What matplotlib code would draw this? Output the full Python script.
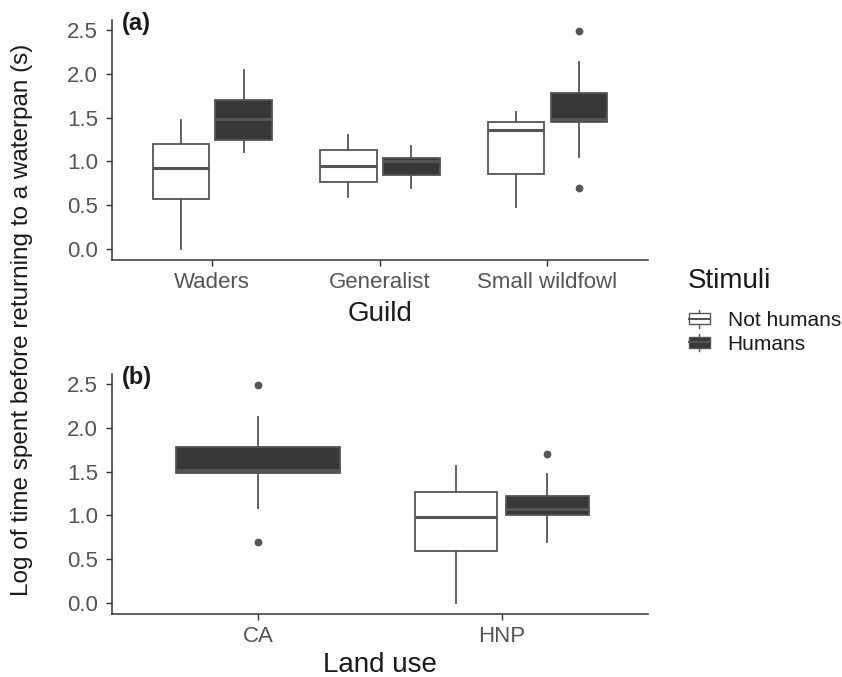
import matplotlib
matplotlib.use("Agg")
import matplotlib.pyplot as plt
from matplotlib.legend_handler import HandlerBase
from matplotlib.patches import Rectangle
from matplotlib.lines import Line2D

plt.rcParams['font.family'] = ['Liberation Sans', 'DejaVu Sans']

# ---- Data ----
guilds = ["Waders", "Generalist", "Small wildfowl"]
land_uses = ["CA", "HNP"]
stimuli = ["Not humans", "Humans"]

# five-number summaries: (whislo, q1, med, q3, whishi), outliers
guild_not_humans = [(0.00, 0.57, 0.93, 1.20, 1.47),
                    (0.60, 0.77, 0.95, 1.13, 1.30),
                    (0.48, 0.86, 1.36, 1.45, 1.56)]
guild_not_humans_out = [[], [], []]
guild_humans = [(1.11, 1.25, 1.48, 1.70, 2.04),
                (0.70, 0.85, 1.01, 1.04, 1.175),
                (1.05, 1.45, 1.48, 1.78, 2.13)]
guild_humans_out = [[], [], [0.70, 2.49]]

land_not_humans = [None, (0.00, 0.60, 0.98, 1.27, 1.56)]
land_not_humans_out = [[], []]
land_humans = [(1.09, 1.48, 1.52, 1.78, 2.12),
               (0.70, 1.00, 1.07, 1.22, 1.47)]
land_humans_out = [[0.70, 2.49], [1.70]]

yticks = [0.0, 0.5, 1.0, 1.5, 2.0, 2.5]

# ---- Styles ----
W, H = 842, 677
FILL = {"Not humans": "#FFFFFF", "Humans": "#383838"}
EDGE = "#555555"
AXC = "#333333"
TICKC = "#555555"
TXT = "#1a1a1a"

fig = plt.figure(figsize=(W / 100, H / 100), dpi=100)

def ax_rect(left, top, right, bottom):
    return [left / W, 1 - bottom / H, (right - left) / W, (bottom - top) / H]

ax_a = fig.add_axes(ax_rect(111.8, 20, 648, 260))
ax_b = fig.add_axes(ax_rect(111.8, 374, 648, 614))

def stats(five, out):
    lo, q1, med, q3, hi = five
    return dict(whislo=lo, q1=q1, med=med, q3=q3, whishi=hi, fliers=out)

def draw(ax, five, out, pos, width, group):
    ax.bxp([stats(five, out)], positions=[pos], widths=[width],
           patch_artist=True, showcaps=False,
           boxprops=dict(facecolor=FILL[group], edgecolor=EDGE, linewidth=1.3),
           medianprops=dict(color=EDGE, linewidth=2.2, solid_capstyle='butt'),
           whiskerprops=dict(color=EDGE, linewidth=1.3),
           flierprops=dict(marker='o', markerfacecolor=EDGE, markeredgecolor=EDGE,
                           markersize=4.6, linestyle='none'),
           manage_ticks=False)

dodge = 0.1875
bw = 0.3375
for i in range(len(guilds)):
    draw(ax_a, guild_not_humans[i], guild_not_humans_out[i], i + 1 - dodge, bw, "Not humans")
    draw(ax_a, guild_humans[i], guild_humans_out[i], i + 1 + dodge, bw, "Humans")

for i in range(len(land_uses)):
    nh = land_not_humans[i]
    if nh is None:
        draw(ax_b, land_humans[i], land_humans_out[i], i + 1, 2 * bw, "Humans")
    else:
        draw(ax_b, nh, land_not_humans_out[i], i + 1 - dodge, bw, "Not humans")
        draw(ax_b, land_humans[i], land_humans_out[i], i + 1 + dodge, bw, "Humans")

ymin, ymax = -0.1245, 2.6145
for ax, cats, xlabel, tag, lpad in [(ax_a, guilds, "Guild", "(a)", 6),
                                    (ax_b, land_uses, "Land use", "(b)", 3.5)]:
    ax.set_xlim(0.4, len(cats) + 0.6)
    ax.set_ylim(ymin, ymax)
    ax.set_xticks(range(1, len(cats) + 1))
    ax.set_xticklabels(cats)
    ax.set_yticks(yticks)
    ax.set_yticklabels([f"{v:.1f}" for v in yticks])
    for s in ["top", "right"]:
        ax.spines[s].set_visible(False)
    for s in ["left", "bottom"]:
        ax.spines[s].set_color(AXC)
        ax.spines[s].set_linewidth(1.1)
    ax.tick_params(axis='both', colors=AXC, length=4, width=1.0,
                   labelsize=16, labelcolor=TICKC)
    ax.tick_params(axis='x', pad=4.5)
    ax.tick_params(axis='y', pad=6)
    ax.set_xlabel(xlabel, fontsize=20, color=TXT, labelpad=lpad)
    ax.text(0.018, 0.985, tag, transform=ax.transAxes, fontsize=17,
            fontweight='bold', va='center', ha='left', color=TXT)

fig.text(22 / W, 1 - 320 / H, "Log of time spent before returning to a waterpan (s)",
         rotation=90, fontsize=17.5, ha='center', va='center', color=TXT)

# ---- Legend ----
class BoxHandler(HandlerBase):
    def __init__(self, fill):
        super().__init__()
        self.fill = fill

    def create_artists(self, legend, orig_handle, xdescent, ydescent, width, height,
                       fontsize, trans):
        cx = width / 2 - xdescent
        bh = height * 0.58
        by = -ydescent + (height - bh) / 2
        wl = Line2D([cx, cx], [-ydescent + height * 0.03, height * 0.97 - ydescent],
                    color=EDGE, lw=1.0, transform=trans)
        r = Rectangle((-xdescent, by), width, bh, facecolor=self.fill,
                      edgecolor=EDGE, lw=1.0, transform=trans)
        m = Line2D([-xdescent, width - xdescent], [by + bh / 2, by + bh / 2],
                   color=EDGE, lw=1.5, transform=trans)
        return [wl, r, m]

fig.text(688 / W, 1 - 281 / H, "Stimuli", fontsize=20, color=TXT,
         ha='left', va='center')

h_nh = Rectangle((0, 0), 1, 1)
h_h = Line2D([0], [0])
leg = fig.legend([h_nh, h_h], stimuli,
                 handler_map={h_nh: BoxHandler(FILL["Not humans"]),
                              h_h: BoxHandler(FILL["Humans"])},
                 loc='center left', bbox_to_anchor=(689 / W, 1 - 331.5 / H),
                 frameon=False, fontsize=15, borderaxespad=0, borderpad=0,
                 handlelength=1.0, handleheight=1.0, handletextpad=0.85,
                 labelspacing=0.15)
for t in leg.get_texts():
    t.set_color(TXT)

fig.savefig("out.png", dpi=100)
